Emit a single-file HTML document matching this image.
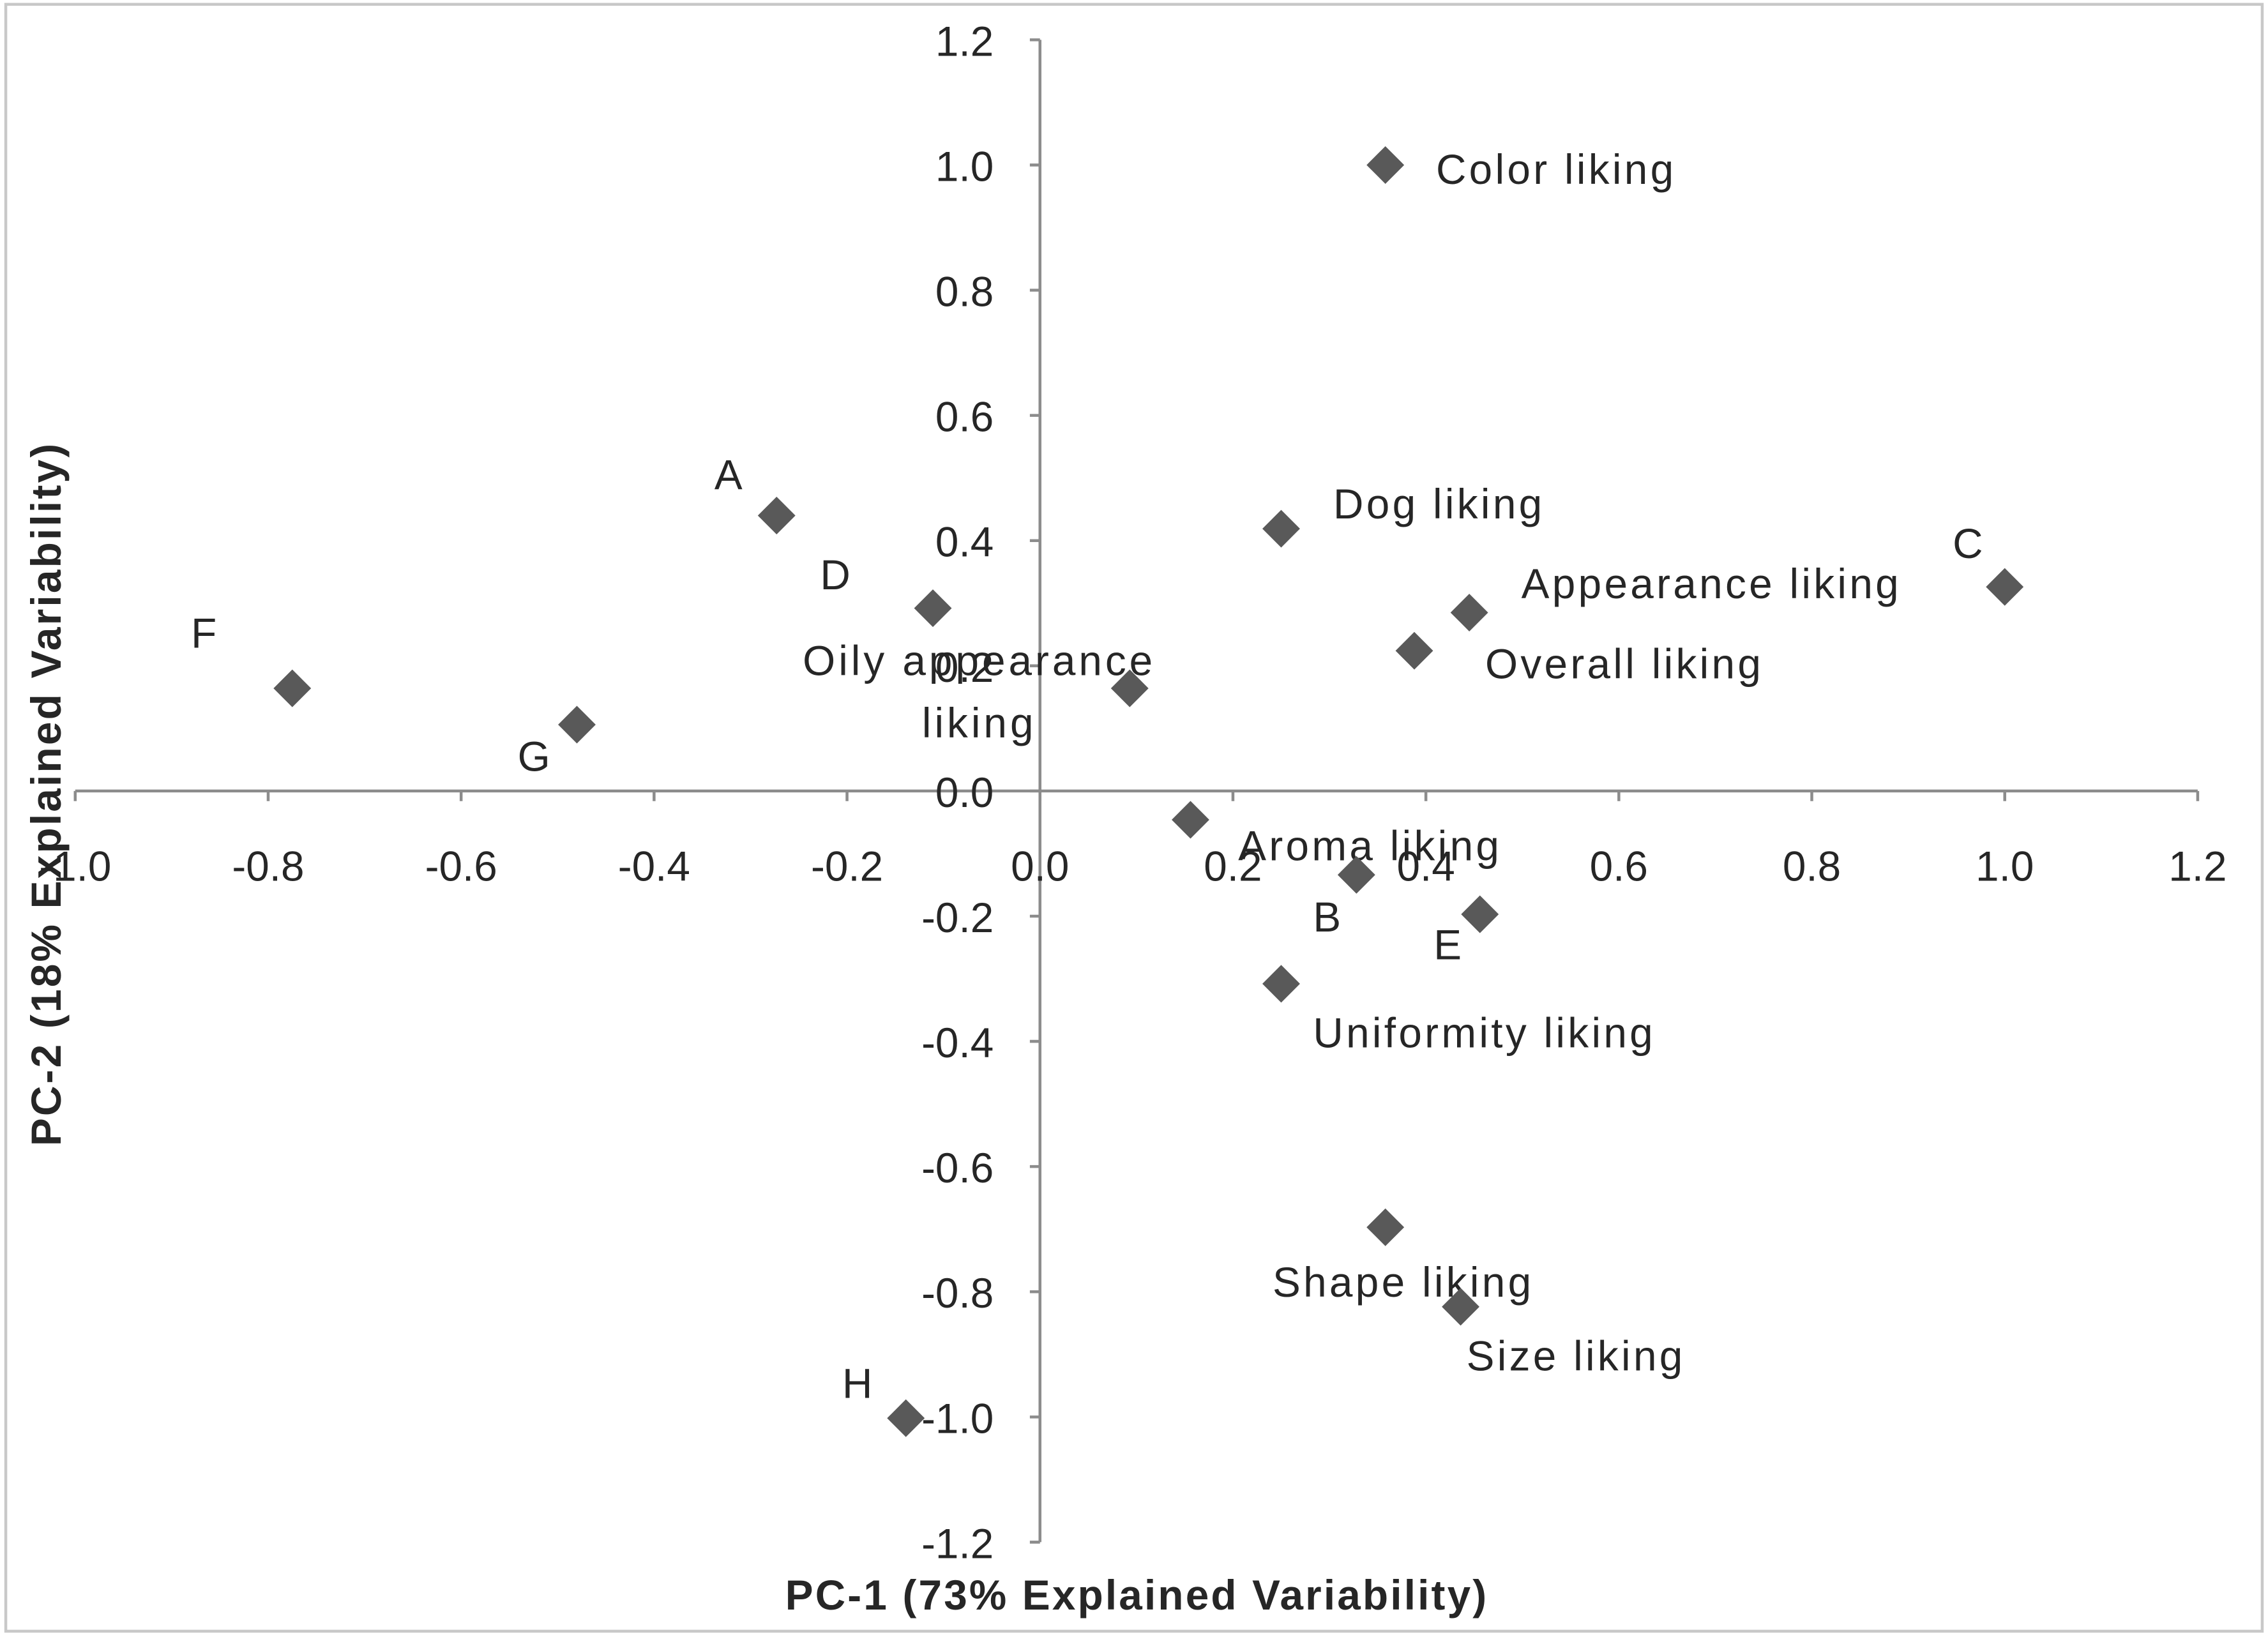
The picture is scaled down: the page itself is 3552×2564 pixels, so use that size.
<!DOCTYPE html>
<html><head><meta charset="utf-8"><style>
html,body{margin:0;padding:0;background:#fff}
svg{display:block}
text{font-family:"Liberation Sans",sans-serif;fill:#262626}
</style></head><body>
<svg id="chart" width="3552" height="2564" viewBox="0 0 1568 1130" preserveAspectRatio="none" xmlns="http://www.w3.org/2000/svg">
<rect x="4" y="3" width="1560" height="1123" fill="#fff" stroke="#c8c8c8" stroke-width="2"/>
<g id="axes"></g>
<g id="points"></g>
<text x="786" y="1111" font-size="29" font-weight="bold" letter-spacing="1.4" text-anchor="middle">PC-1 (73% Explained Variability)</text>
<text transform="translate(42,548) rotate(-90)" font-size="29" font-weight="bold" letter-spacing="1.4" text-anchor="middle">PC-2 (18% Explained Variability)</text>
</svg>
<script>
const xTicks=[-1.0,-0.8,-0.6,-0.4,-0.2,0.0,0.2,0.4,0.6,0.8,1.0,1.2];
const yTicks=[1.2,1.0,0.8,0.6,0.4,0.2,0.0,-0.2,-0.4,-0.6,-0.8,-1.0,-1.2];
const labels=["Color liking","Dog liking","Appearance liking","Overall liking","C","A","D","F","G","Oily appearance liking","Aroma liking","B","E","Uniformity liking","Shape liking","Size liking","H"];
const xVals=[0.358,0.25,0.445,0.388,1.0,-0.273,-0.111,-0.775,-0.48,0.093,0.156,0.328,0.456,0.25,0.358,0.436,-0.139];
const yVals=[1.0,0.419,0.285,0.224,0.326,0.44,0.292,0.164,0.106,0.164,-0.046,-0.134,-0.197,-0.308,-0.697,-0.824,-1.002];
const offX=[35,36,36,49,-36,-43,-78,-70,-41,-104,33,-30,-32,22,-78,4,-44];
const offY=[13,-7,-10,19,-20,-18,-13,-28,32,-9,28,39,31,44,48,44,-14];

const NS="http://www.w3.org/2000/svg";
const X=v=>719+(v)*667;
const Y=v=>546-(v)*432.1;
function mk(t,a,p){const e=document.createElementNS(NS,t);for(const k in a)e.setAttribute(k,a[k]);p.appendChild(e);return e;}
const ax=document.getElementById('axes');
let l=mk('line',{x1:X(-1),x2:X(1.2),y1:Y(0),y2:Y(0),stroke:'#8c8c8c','stroke-width':2},ax);


l=mk('line',{x1:X(0),x2:X(0),y1:Y(1.2),y2:Y(-1.2),stroke:'#8c8c8c','stroke-width':2},ax);


xTicks.forEach(v=>{
  const t=mk('line',{x1:X(v),x2:X(v),y1:Y(0),y2:Y(0)+7,stroke:'#8c8c8c','stroke-width':2},ax);
  
  
  const tx=mk('text',{x:X(v),y:Y(0)+62,'font-size':29,'text-anchor':'middle'},ax);
  tx.textContent=v.toFixed(1);
  
  
});
yTicks.forEach(v=>{
  const t=mk('line',{x1:X(0)-7,x2:X(0),y1:Y(v),y2:Y(v),stroke:'#8c8c8c','stroke-width':2},ax);
  
  
  const tx=mk('text',{x:X(0)-32,y:Y(v)+11,'font-size':29,'text-anchor':'end'},ax);
  tx.textContent=v.toFixed(1);
  
  
});
const pg=document.getElementById('points');
labels.forEach((lab,i)=>{
  const cx=X(xVals[i]),cy=Y(yVals[i]),r=13;
  const p=mk('polygon',{points:`${cx},${cy-r} ${cx+r},${cy} ${cx},${cy+r} ${cx-r},${cy}`,fill:'#595959'},pg);
  
  
  if(lab==="Oily appearance liking"){
    const t=mk('text',{x:cx+offX[i],y:cy+offY[i],'font-size':29,'letter-spacing':2.2,'text-anchor':'middle'},pg);
    const a=mk('tspan',{x:cx+offX[i],dy:0},t);a.textContent="Oily appearance";
    const b=mk('tspan',{x:cx+offX[i],dy:43},t);b.textContent="liking";
    
    
  } else {
    const t=mk('text',{x:cx+offX[i],y:cy+offY[i],'font-size':29,'letter-spacing':1.9},pg);
    t.textContent=lab;
    
    
  }
});
</script>
</body></html>
